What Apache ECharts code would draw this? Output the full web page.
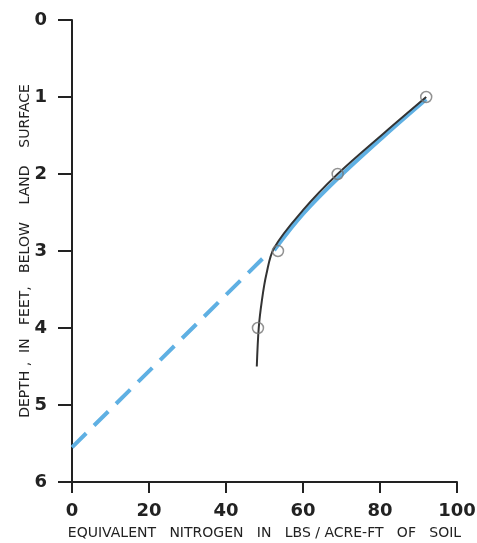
<!DOCTYPE html>
<html>
<head>
<meta charset="utf-8">
<script src="https://cdn.jsdelivr.net/npm/echarts@6/dist/echarts.min.js"></script>
<style>
html,body{margin:0;padding:0;background:#fff;}
#main{width:477px;height:543px;}
</style>
</head>
<body>
<div id="main"></div>
<script>
// measured samples (nitrogen, depth)
var samplePoints = [[92, 1], [69, 2], [53.5, 3], [48.3, 4]];
// hand drawn curve through the samples
var curvePoints = [[92, 1], [81, 1.47], [69, 2], [60, 2.47], [52.5, 2.96], [50.5, 3.3], [49.3, 3.65], [48.5, 4], [48, 4.5]];
// blue trace along the upper part of the curve, then dashed to the surface axis
var fitSolid = [[92, 1.03], [81, 1.51], [69, 2.06], [60, 2.52], [52.5, 2.99]];
var fitDashed = [[0, 5.55], [51.5, 3.0]];
var xTicks = [0, 20, 40, 60, 80, 100];
var yTicks = [0, 1, 2, 3, 4, 5, 6];

var chart = echarts.init(document.getElementById('main'));
var labelFont = {
    color: '#222',
    fontFamily: 'DejaVu Sans',
    fontWeight: 'bold',
    fontSize: 18
};
var option = {
    animation: false,
    grid: {
        left: 72,
        right: 20,
        top: 20,
        bottom: 61,
        outerBoundsMode: 'none'
    },
    xAxis: {
        type: 'value',
        position: 'bottom',
        min: xTicks[0],
        max: xTicks[xTicks.length - 1],
        interval: 20,
        name: 'EQUIVALENT   NITROGEN   IN   LBS / ACRE-FT   OF   SOIL',
        nameLocation: 'middle',
        nameGap: 44,
        nameMoveOverlap: false,
        nameTextStyle: {
            color: '#222',
            fontFamily: 'DejaVu Sans',
            fontSize: 14
        },
        axisLine: {onZero: false, lineStyle: {color: '#222', width: 2}},
        axisTick: {length: 11, lineStyle: {color: '#222', width: 2}},
        axisLabel: Object.assign({margin: 20}, labelFont),
        splitLine: {show: false}
    },
    yAxis: {
        type: 'value',
        inverse: true,
        min: yTicks[0],
        max: yTicks[yTicks.length - 1],
        interval: 1,
        name: 'DEPTH ,  IN   FEET,   BELOW    LAND    SURFACE',
        nameLocation: 'middle',
        nameGap: 40,
        nameRotate: 90,
        nameMoveOverlap: false,
        nameTextStyle: {
            color: '#222',
            fontFamily: 'DejaVu Sans',
            fontSize: 14
        },
        axisLine: {onZero: false, lineStyle: {color: '#222', width: 2}},
        axisTick: {length: 14, lineStyle: {color: '#222', width: 2}},
        axisLabel: Object.assign({margin: 25}, labelFont),
        splitLine: {show: false}
    },
    series: [{
        type: 'line',
        data: fitDashed,
        symbol: 'none',
        lineStyle: {color: '#5fb0e3', width: 4, type: [20, 11]},
        z: 2
    }, {
        type: 'line',
        data: fitSolid,
        smooth: 0.35,
        symbol: 'none',
        lineStyle: {color: '#5fb0e3', width: 4},
        z: 2
    }, {
        type: 'line',
        data: curvePoints,
        smooth: 0.35,
        symbol: 'none',
        lineStyle: {color: '#333', width: 2},
        z: 3
    }, {
        type: 'scatter',
        data: samplePoints,
        symbol: 'circle',
        symbolSize: 11,
        itemStyle: {color: 'rgba(255,255,255,0)', borderColor: '#777', borderWidth: 1.5},
        z: 4
    }]
};
chart.setOption(option);
window.addEventListener('resize', function () {
    chart.resize();
});
</script>
</body>
</html>
